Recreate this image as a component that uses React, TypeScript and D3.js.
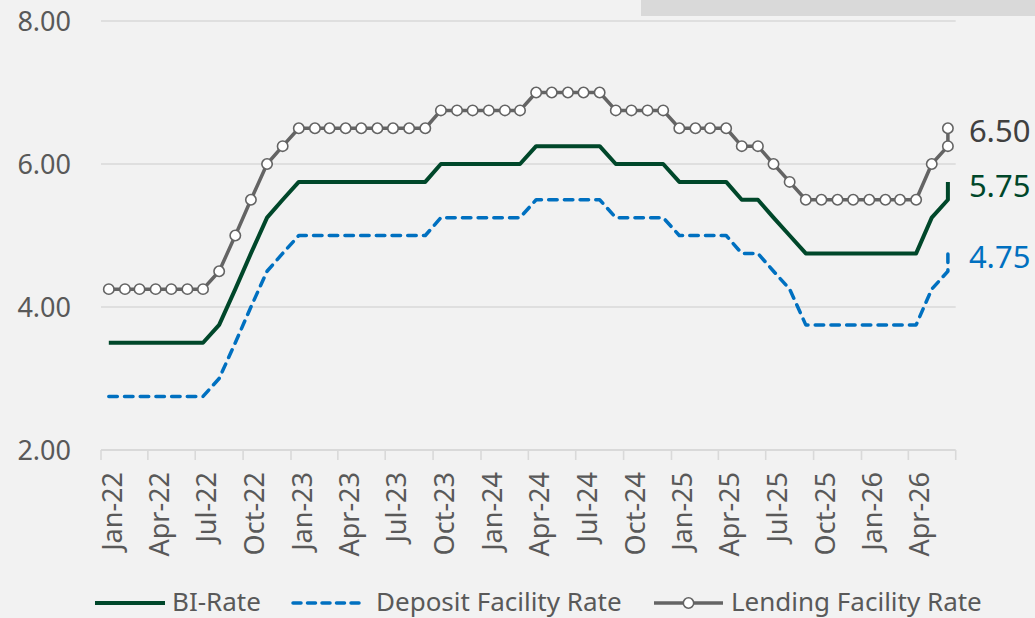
import React from "react";
import * as d3 from "d3";

// ---- data ----
const monthStarts: Date[] = [
  ...d3.utcMonth.range(new Date(Date.UTC(2022, 0, 1)), new Date(Date.UTC(2026, 6, 1))),
  new Date(Date.UTC(2026, 5, 1)), // second June-26 observation
];

const biRate = [
  3.5, 3.5, 3.5, 3.5, 3.5, 3.5, 3.5, 3.75, 4.25, 4.75, 5.25, 5.5,
  5.75, 5.75, 5.75, 5.75, 5.75, 5.75, 5.75, 5.75, 5.75, 6.0, 6.0, 6.0,
  6.0, 6.0, 6.0, 6.25, 6.25, 6.25, 6.25, 6.25, 6.0, 6.0, 6.0, 6.0,
  5.75, 5.75, 5.75, 5.75, 5.5, 5.5, 5.25, 5.0, 4.75, 4.75, 4.75, 4.75,
  4.75, 4.75, 4.75, 4.75, 5.25, 5.5, 5.75,
];

const depositRate = [
  2.75, 2.75, 2.75, 2.75, 2.75, 2.75, 2.75, 3.0, 3.5, 4.0, 4.5, 4.75,
  5.0, 5.0, 5.0, 5.0, 5.0, 5.0, 5.0, 5.0, 5.0, 5.25, 5.25, 5.25,
  5.25, 5.25, 5.25, 5.5, 5.5, 5.5, 5.5, 5.5, 5.25, 5.25, 5.25, 5.25,
  5.0, 5.0, 5.0, 5.0, 4.75, 4.75, 4.5, 4.25, 3.75, 3.75, 3.75, 3.75,
  3.75, 3.75, 3.75, 3.75, 4.25, 4.5, 4.75,
];

const lendingRate = [
  4.25, 4.25, 4.25, 4.25, 4.25, 4.25, 4.25, 4.5, 5.0, 5.5, 6.0, 6.25,
  6.5, 6.5, 6.5, 6.5, 6.5, 6.5, 6.5, 6.5, 6.5, 6.75, 6.75, 6.75,
  6.75, 6.75, 6.75, 7.0, 7.0, 7.0, 7.0, 7.0, 6.75, 6.75, 6.75, 6.75,
  6.5, 6.5, 6.5, 6.5, 6.25, 6.25, 6.0, 5.75, 5.5, 5.5, 5.5, 5.5,
  5.5, 5.5, 5.5, 5.5, 6.0, 6.25, 6.5,
];

const yTicks = [2, 4, 6, 8];
const seriesNames = ["BI-Rate", "Deposit Facility Rate", "Lending Facility Rate"];

// ---- styling ----
const W = 1035;
const H = 618;
const FONT = "'Noto Sans', 'Open Sans', sans-serif";
const C_BI = "#00472a";
const C_DEP = "#0070c0";
const C_LEND = "#646464";
const C_TEXT = "#595959";
const C_GRID = "#d9d9d9";

export default function App() {
  const x = d3
    .scaleUtc()
    .domain([new Date(Date.UTC(2022, 0, 1)), new Date(Date.UTC(2026, 6, 1))])
    .range([101, 955.7]);
  const y = d3.scaleLinear().domain([2, 8]).range([450, 21]);

  const px = (i: number) => x(d3.utcDay.offset(monthStarts[i], 15));
  const line = d3
    .line<number>()
    .x((_, i) => px(i))
    .y((v) => y(v));

  const xTicks = d3.utcMonth.every(3)!.range(
    new Date(Date.UTC(2022, 0, 1)),
    new Date(Date.UTC(2026, 6, 2))
  );
  const fmt = d3.utcFormat("%b-%y");
  const last = biRate.length - 1;
  const lastX = px(last);

  return (
    <div style={{ position: "fixed", left: 0, top: 0, width: W, height: H }}>
      <svg width={W} height={H} style={{ display: "block", fontFamily: FONT }}>
        <rect x={0} y={0} width={W} height={H} fill="#f2f2f2" />
        <rect x={641} y={0} width={W - 641} height={16} fill="#d9d9d9" />

        {/* gridlines */}
        {yTicks.map((t) => (
          <line
            key={"g" + t}
            x1={101}
            x2={955.7}
            y1={y(t)}
            y2={y(t)}
            stroke={C_GRID}
            strokeWidth={t === 2 ? 2 : 1.6}
          />
        ))}
        {/* y labels */}
        {yTicks.map((t) => (
          <text
            key={"yl" + t}
            x={71}
            y={y(t)}
            dy="0.36em"
            textAnchor="end"
            fontSize={27}
            fill={C_TEXT}
          >
            {t.toFixed(2)}
          </text>
        ))}

        {/* x ticks */}
        {xTicks.map((d, i) => (
          <line
            key={"xt" + i}
            x1={x(d)}
            x2={x(d)}
            y1={450}
            y2={460}
            stroke={C_GRID}
            strokeWidth={1.6}
          />
        ))}
        {xTicks.slice(0, -1).map((d, i) => (
          <text
            key={"xl" + i}
            transform={`translate(${x(d) + 21},472) rotate(-90)`}
            textAnchor="end"
            fontSize={27}
            fill={C_TEXT}
          >
            {fmt(d)}
          </text>
        ))}

        {/* series */}
        <path
          d={line(depositRate) || ""}
          fill="none"
          stroke={C_DEP}
          strokeWidth={3.5}
          strokeDasharray="8.5 7.2"
          strokeLinecap="round"
          strokeLinejoin="round"
        />
        <path
          d={line(biRate) || ""}
          fill="none"
          stroke={C_BI}
          strokeWidth={4}
          strokeLinejoin="round"
        />
        <path
          d={line(lendingRate) || ""}
          fill="none"
          stroke={C_LEND}
          strokeWidth={3.5}
          strokeLinejoin="round"
        />
        {lendingRate.map((v, i) => (
          <circle
            key={"m" + i}
            cx={px(i)}
            cy={y(v)}
            r={5.2}
            fill="#ffffff"
            stroke={C_LEND}
            strokeWidth={1.6}
          />
        ))}

        {/* end labels */}
        <text x={lastX + 21} y={y(lendingRate[last]) + 3} dy="0.36em" fontSize={31} fill="#404040">
          {lendingRate[last].toFixed(2)}
        </text>
        <text x={lastX + 21} y={y(biRate[last]) + 4} dy="0.36em" fontSize={31} fill={C_BI}>
          {biRate[last].toFixed(2)}
        </text>
        <text x={lastX + 21} y={y(depositRate[last]) + 3} dy="0.36em" fontSize={31} fill={C_DEP}>
          {depositRate[last].toFixed(2)}
        </text>

        {/* legend */}
        <g fontSize={26} fill={C_TEXT}>
          <line x1={95} x2={165} y1={603} y2={603} stroke={C_BI} strokeWidth={4} />
          <text x={172} y={602} dy="0.36em">{seriesNames[0]}</text>

          <line
            x1={293}
            x2={361}
            y1={603}
            y2={603}
            stroke={C_DEP}
            strokeWidth={3.5}
            strokeDasharray="8 6.5"
            strokeLinecap="round"
          />
          <text x={376} y={602} dy="0.36em">{seriesNames[1]}</text>

          <line x1={654} x2={723} y1={603} y2={603} stroke={C_LEND} strokeWidth={3.5} />
          <circle cx={688.5} cy={603} r={5.2} fill="#fff" stroke={C_LEND} strokeWidth={1.6} />
          <text x={731} y={602} dy="0.36em">{seriesNames[2]}</text>
        </g>
      </svg>
    </div>
  );
}
